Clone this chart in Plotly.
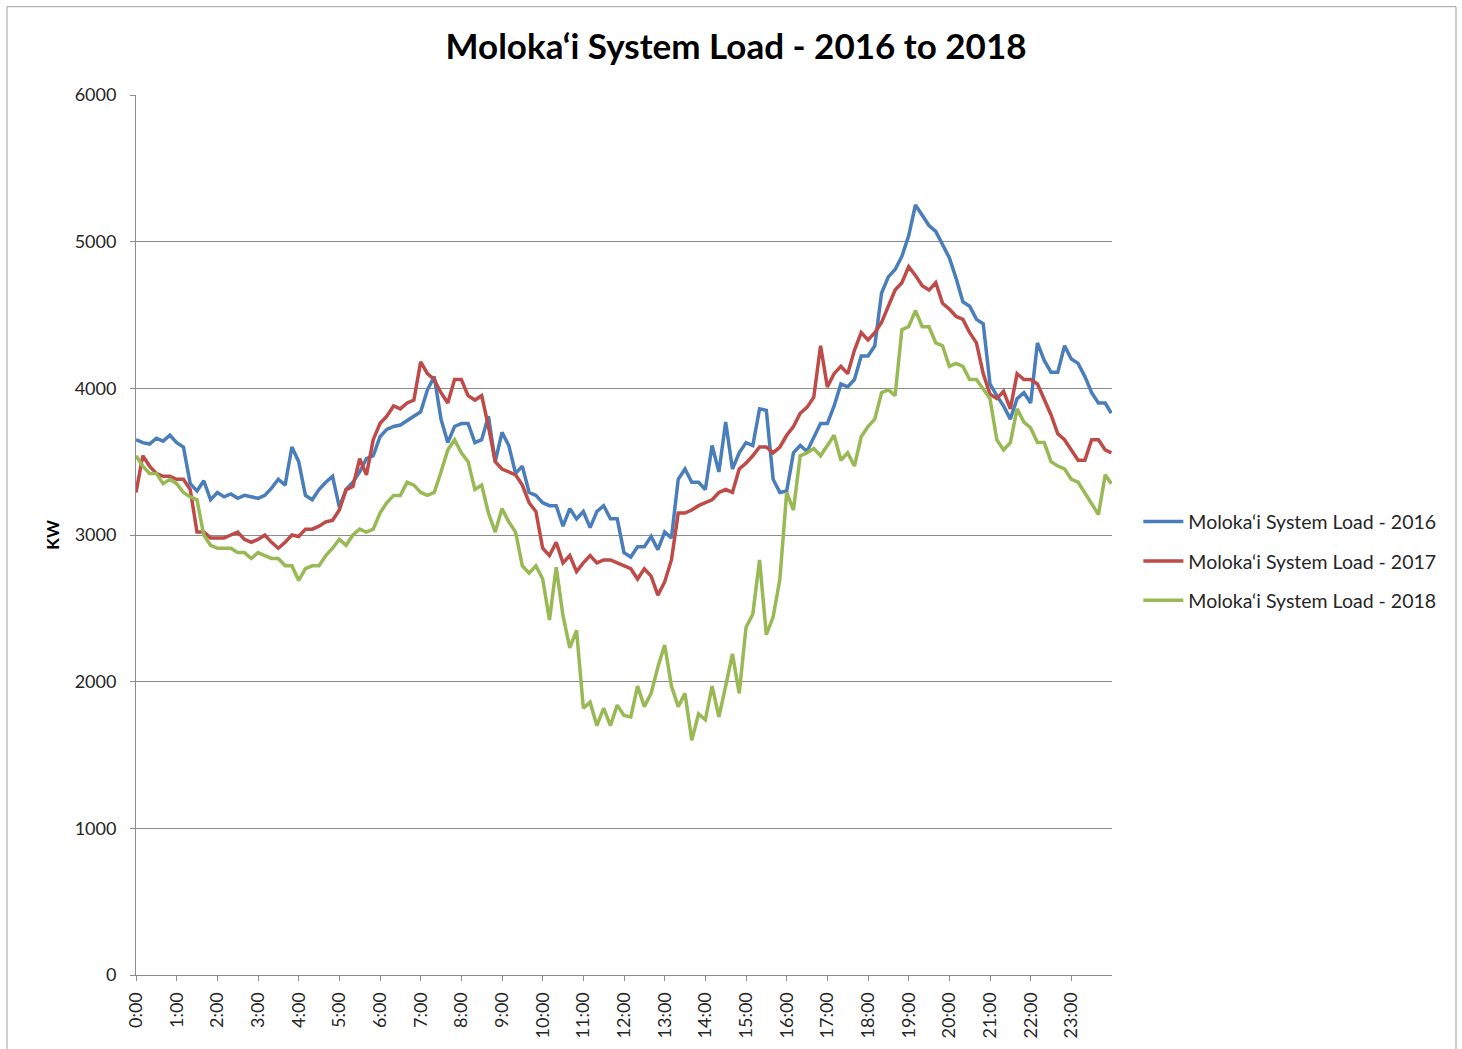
import plotly.graph_objects as go

# time of day in minutes (10-minute samples + final sample at 23:59)
minutes = list(range(0, 1440, 10)) + [1439]
hour_ticks = list(range(0, 24))
hour_labels = [f"{h}:00" for h in hour_ticks]

load_2016 = [
    3650, 3630, 3620, 3660, 3640, 3680,
    3630, 3600, 3350, 3300, 3370, 3240,
    3290, 3260, 3280, 3250, 3270, 3260,
    3250, 3270, 3320, 3380, 3340, 3600,
    3500, 3270, 3240, 3310, 3360, 3400,
    3190, 3310, 3360, 3430, 3520, 3540,
    3670, 3720, 3740, 3750, 3780, 3810,
    3840, 3990, 4080, 3790, 3630, 3740,
    3760, 3760, 3630, 3650, 3810, 3500,
    3700, 3610, 3420, 3470, 3290, 3270,
    3220, 3200, 3200, 3060, 3180, 3110,
    3160, 3050, 3160, 3200, 3110, 3110,
    2880, 2850, 2920, 2920, 2990, 2900,
    3020, 2980, 3380, 3450, 3360, 3360,
    3310, 3610, 3430, 3770, 3450, 3560,
    3630, 3610, 3860, 3850, 3380, 3290,
    3300, 3560, 3610, 3570, 3660, 3760,
    3760, 3880, 4030, 4010, 4060, 4220,
    4220, 4290, 4650, 4760, 4810, 4900,
    5040, 5250, 5180, 5110, 5070, 4980,
    4890, 4750, 4590, 4560, 4470, 4440,
    4030, 3950, 3880, 3790, 3930, 3970,
    3900, 4310, 4190, 4110, 4110, 4290,
    4200, 4170, 4080, 3970, 3900, 3900,
    3830,
]

load_2017 = [
    3290, 3540, 3470, 3420, 3400, 3400,
    3380, 3380, 3310, 3020, 3020, 2980,
    2980, 2980, 3000, 3020, 2970, 2950,
    2970, 3000, 2950, 2910, 2950, 3000,
    2990, 3040, 3040, 3060, 3090, 3100,
    3170, 3310, 3330, 3520, 3410, 3650,
    3760, 3810, 3880, 3860, 3900, 3920,
    4180, 4100, 4060, 3970, 3900, 4060,
    4060, 3950, 3920, 3950, 3740, 3500,
    3450, 3430, 3410, 3340, 3220, 3160,
    2910, 2860, 2950, 2810, 2860, 2750,
    2810, 2860, 2810, 2830, 2830, 2810,
    2790, 2770, 2700, 2770, 2720, 2590,
    2680, 2830, 3150, 3150, 3170, 3200,
    3220, 3240, 3290, 3310, 3290, 3450,
    3490, 3540, 3600, 3600, 3560, 3600,
    3680, 3740, 3830, 3870, 3940, 4290,
    4010, 4100, 4150, 4100, 4260, 4380,
    4330, 4380, 4450, 4560, 4670, 4720,
    4830, 4770, 4700, 4670, 4720, 4580,
    4540, 4490, 4470, 4380, 4310, 4100,
    3960, 3930, 3980, 3860, 4100, 4060,
    4060, 4030, 3930, 3820, 3690, 3650,
    3580, 3510, 3510, 3650, 3650, 3580,
    3560,
]

load_2018 = [
    3540, 3470, 3420, 3420, 3350, 3380,
    3350, 3290, 3260, 3240, 3000, 2930,
    2910, 2910, 2910, 2880, 2880, 2840,
    2880, 2860, 2840, 2840, 2790, 2790,
    2690, 2770, 2790, 2790, 2860, 2910,
    2970, 2930, 3000, 3040, 3020, 3040,
    3150, 3220, 3270, 3270, 3360, 3340,
    3290, 3270, 3290, 3430, 3580, 3650,
    3560, 3500, 3310, 3340, 3150, 3020,
    3180, 3090, 3020, 2790, 2740, 2790,
    2700, 2420, 2780, 2450, 2230, 2350,
    1820, 1860, 1700, 1820, 1700, 1840,
    1770, 1760, 1970, 1830, 1920, 2100,
    2250, 1970, 1830, 1920, 1600, 1780,
    1740, 1970, 1760, 1970, 2190, 1920,
    2370, 2460, 2830, 2320, 2440, 2700,
    3290, 3170, 3540, 3560, 3590, 3540,
    3610, 3680, 3510, 3560, 3470, 3670,
    3740, 3790, 3970, 3990, 3950, 4400,
    4420, 4530, 4420, 4420, 4310, 4290,
    4150, 4170, 4150, 4060, 4060, 3990,
    3930, 3650, 3580, 3630, 3860, 3770,
    3730, 3630, 3630, 3500, 3470, 3450,
    3380, 3360, 3290, 3220, 3140, 3410,
    3350,
]

series_names = [
    "Moloka\u2018i System Load - 2016",
    "Moloka\u2018i System Load - 2017",
    "Moloka\u2018i System Load - 2018",
]
series_values = [load_2016, load_2017, load_2018]
colors = ["#4A7EBB", "#BE4B48", "#98B954"]

hours = [m / 60 for m in minutes]
FONT = "Lato"

fig = go.Figure()
for i, (name, vals, col) in enumerate(zip(series_names, series_values, colors)):
    fig.add_trace(go.Scatter(
        x=hours, y=vals, mode="lines", name=name,
        line=dict(color=col, width=3.5),
        legendgroup=f"g{i}",
    ))

grid = "#8C8C8C"
fig.update_layout(
    width=1462, height=1049,
    margin=dict(l=136, r=350, t=95, b=74),
    paper_bgcolor="white", plot_bgcolor="white",
    font=dict(family=FONT, size=18, color="#262626"),
    title=dict(
        text="<b>Moloka\u2018i System Load - 2016 to 2018</b>",
        x=736 / 1462, xref="container", xanchor="center",
        y=1 - 47 / 1049, yref="container", yanchor="middle",
        font=dict(family=FONT, size=35, color="#000000"),
    ),
    showlegend=True,
    legend=dict(
        x=1.027, xanchor="left", y=0.47, yanchor="middle",
        font=dict(family=FONT, size=19.5, color="#262626"),
        tracegroupgap=11, bgcolor="rgba(0,0,0,0)",
        itemwidth=40,
    ),
    xaxis=dict(
        range=[0, 24], tickmode="array", tickvals=hour_ticks, ticktext=hour_labels,
        tickangle=-90, ticks="outside", ticklen=5, tickcolor=grid,
        showline=True, linecolor=grid, linewidth=1,
        showgrid=False, zeroline=False, ticklabelstandoff=4,
        tickfont=dict(family=FONT, size=18, color="#262626"),
    ),
    yaxis=dict(
        range=[0, 6000], tickmode="linear", tick0=0, dtick=1000, tickformat="d",
        ticks="outside", ticklen=5, tickcolor=grid,
        showline=True, linecolor=grid, linewidth=1,
        showgrid=True, gridcolor=grid, gridwidth=1, zeroline=False,
        ticklabelstandoff=10,
        tickfont=dict(family=FONT, size=18, color="#262626"),
        title=dict(text="<b>KW</b>", standoff=10,
                   font=dict(family=FONT, size=17, color="#000000")),
    ),
    shapes=[dict(
        type="rect", xref="paper", yref="paper",
        x0=(7 - 136) / 976, x1=(1456 - 136) / 976,
        y0=-0.2, y1=(975.3 - 7) / 880,
        line=dict(color="#A0A0A0", width=1), fillcolor="rgba(0,0,0,0)", layer="below",
    )],
)

fig.write_html("out.html", config={"displayModeBar": False},
               post_script="document.body.style.margin='0px';")
